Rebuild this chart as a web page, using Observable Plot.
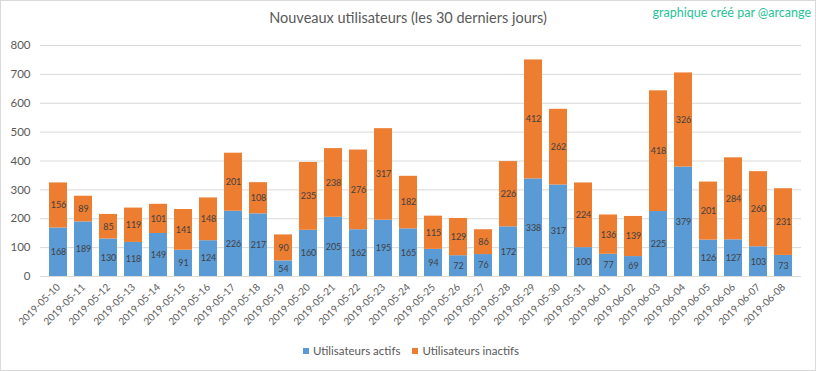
<!DOCTYPE html>
<html>
<head>
<meta charset="utf-8">
<script src="https://cdn.jsdelivr.net/npm/d3@7"></script>
<script src="https://cdn.jsdelivr.net/npm/@observablehq/plot@0.6"></script>
<style>
  html, body { margin: 0; padding: 0; background: #fff; }
  #wrap { position: relative; width: 816px; height: 371px; font-family: Lato, "Open Sans", sans-serif; }
  #frame { position: absolute; left: 0; top: 0; width: 814px; height: 369px; border: 1px solid #d9d9d9; pointer-events: none; }
  #title { position: absolute; left: 0; width: 816px; top: 9px; text-align: center; font-size: 14.5px; color: #595959; }
  #credit { position: absolute; right: 5px; top: 5px; font-size: 12.5px; color: #1fc39a; }
  #legend { position: absolute; left: 3px; width: 816px; top: 344px; text-align: center; font-size: 11.5px; color: #595959; }
  #legend span.sw { display: inline-block; width: 6px; height: 6px; margin-right: 4px; vertical-align: 1px; }
  #legend span.item { margin: 0 6px; }
  #chart { position: absolute; left: 0; top: 0; }
</style>
</head>
<body>
<div id="wrap">
  <div id="chart"></div>
  <div id="title">Nouveaux utilisateurs (les 30 derniers jours)</div>
  <div id="credit">graphique créé par @arcange</div>
  <div id="legend"></div>
  <div id="frame"></div>
</div>
<script>
const dates = ["2019-05-10","2019-05-11","2019-05-12","2019-05-13","2019-05-14","2019-05-15","2019-05-16","2019-05-17","2019-05-18","2019-05-19","2019-05-20","2019-05-21","2019-05-22","2019-05-23","2019-05-24","2019-05-25","2019-05-26","2019-05-27","2019-05-28","2019-05-29","2019-05-30","2019-05-31","2019-06-01","2019-06-02","2019-06-03","2019-06-04","2019-06-05","2019-06-06","2019-06-07","2019-06-08"];
const actifs = [168,189,130,118,149,91,124,226,217,54,160,205,162,195,165,94,72,76,172,338,317,100,77,69,225,379,126,127,103,73];
const inactifs = [156,89,85,119,101,141,148,201,108,90,235,238,276,317,182,115,129,86,226,412,262,224,136,139,418,326,201,284,260,231];
const series = ["Utilisateurs actifs", "Utilisateurs inactifs"];
const colors = ["#5b9bd5", "#ed7d31"];
const yTicks = [0,100,200,300,400,500,600,700,800];

const data = [];
dates.forEach((d, i) => {
  data.push({date: d, serie: series[0], value: actifs[i]});
  data.push({date: d, serie: series[1], value: inactifs[i]});
});

const chart = Plot.plot({
  width: 816,
  height: 371,
  marginTop: 45,
  marginBottom: 95,
  marginLeft: 40,
  marginRight: 15,
  style: {fontFamily: "Lato, 'Open Sans', sans-serif", background: "transparent"},
  x: {domain: dates, padding: 0.29, label: null},
  y: {domain: [0, 800], label: null},
  color: {domain: series, range: colors},
  marks: [
    Plot.gridY(yTicks, {stroke: "#d9d9d9", strokeOpacity: 1}),
    Plot.barY(data, {x: "date", y: "value", fill: "serie"}),
    Plot.ruleY([0], {stroke: "#d9d9d9"}),
    Plot.text(data, Plot.stackY({x: "date", y: "value", z: "serie", text: "value", fill: "#404040", fontSize: 9})),
    Plot.axisY(yTicks, {tickSize: 0, tickPadding: 10, fontSize: 11.5, fill: "#595959", label: null}),
    Plot.axisX({tickSize: 0, tickPadding: 9, tickRotate: -45, fontSize: 10, fill: "#595959", label: null})
  ]
});
document.getElementById("chart").appendChild(chart);

const legend = document.getElementById("legend");
series.forEach((s, i) => {
  const item = document.createElement("span");
  item.className = "item";
  const sw = document.createElement("span");
  sw.className = "sw";
  sw.style.background = colors[i];
  item.appendChild(sw);
  item.appendChild(document.createTextNode(s));
  legend.appendChild(item);
});
</script>
</body>
</html>
